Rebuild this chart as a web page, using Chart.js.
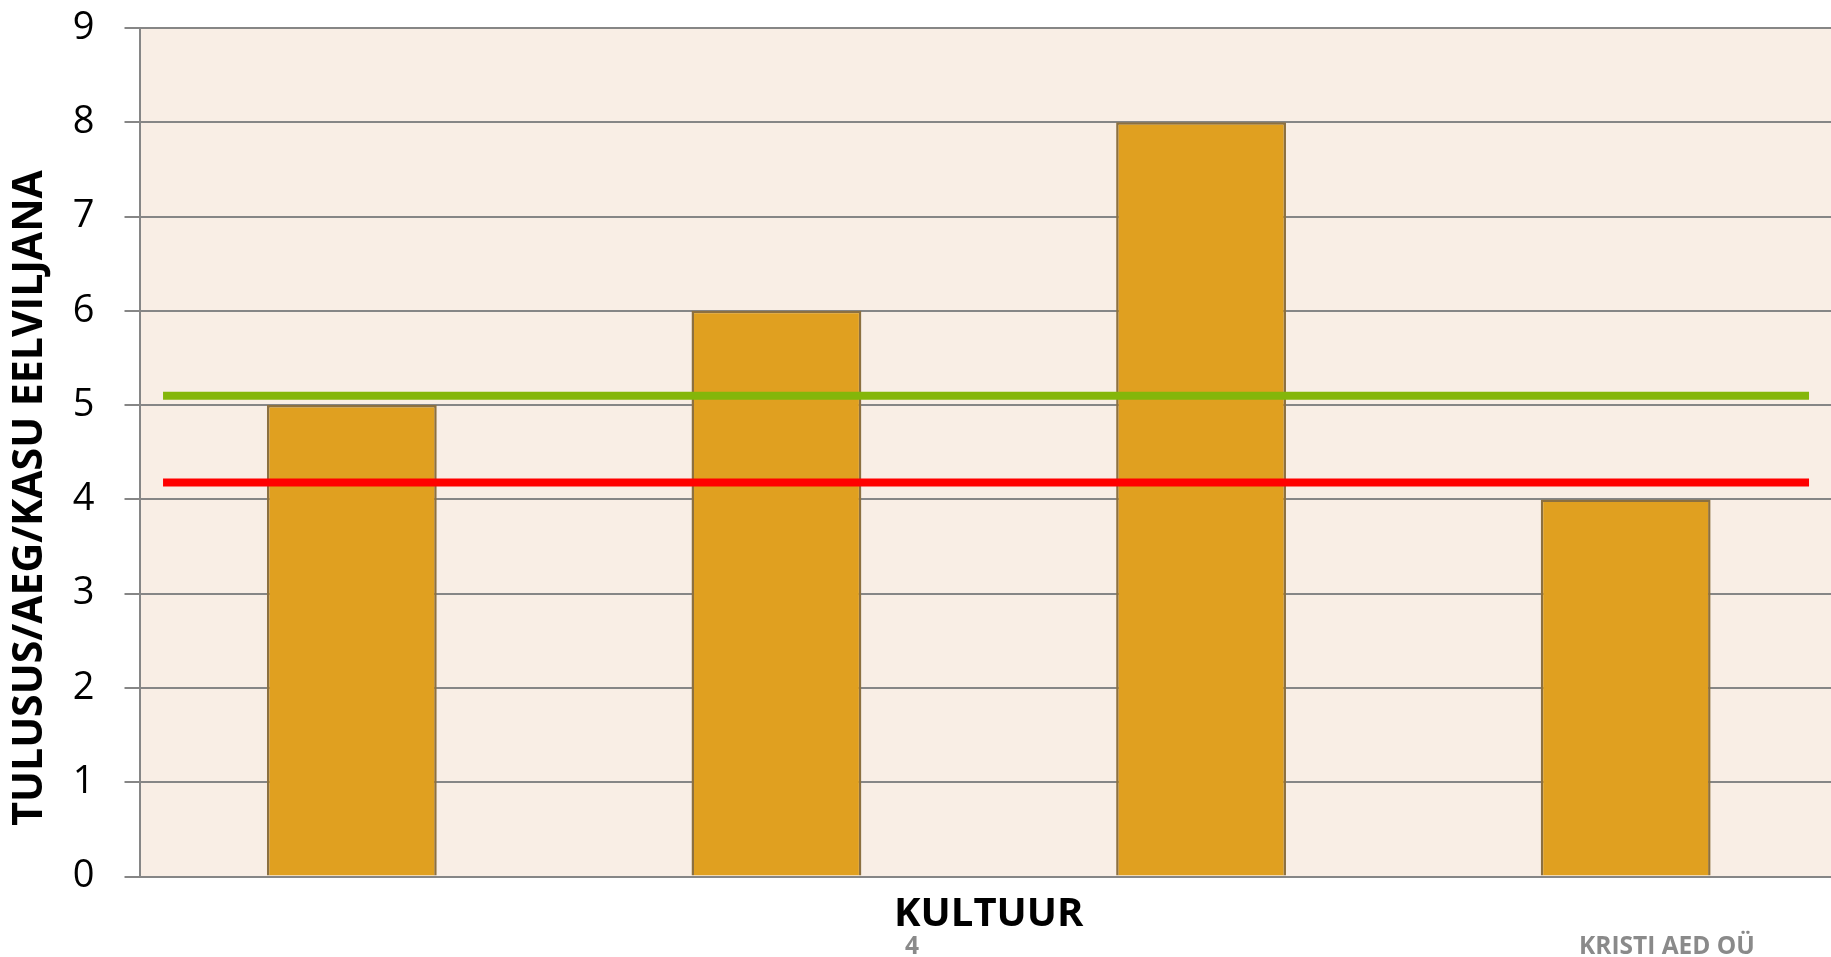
<!DOCTYPE html>
<html>
<head>
<meta charset="utf-8">
<script src="https://cdn.jsdelivr.net/npm/chart.js@4/dist/chart.umd.min.js"></script>
<style>
  html, body { margin: 0; padding: 0; background: #fff; overflow: hidden; }
  #wrap { position: relative; width: 1840px; height: 957px; }
</style>
</head>
<body>
<div id="wrap"><canvas id="chart" width="1840" height="957"></canvas></div>
<script>
// categories (no labels shown on the axis)
const categories = ["1", "2", "3", "4"];
const barValues = [5, 6, 8, 4];
// horizontal reference lines
const greenLevel = 5.1;
const redLevel = 4.18;
const yTicks = [0, 1, 2, 3, 4, 5, 6, 7, 8, 9];

const FONT = "'Open Sans', 'Noto Sans', sans-serif";
const GRID = "#868686";

// plot background + text not handled by the axes
const decor = {
  id: "decor",
  beforeDraw(chart) {
    const { ctx, chartArea: a } = chart;
    ctx.save();
    ctx.fillStyle = "#F9EEE5";
    ctx.fillRect(a.left, a.top, a.right - a.left, a.bottom - a.top);
    ctx.restore();
  },
  afterDraw(chart) {
    const ctx = chart.ctx;
    ctx.save();
    // y axis title
    ctx.translate(30, 498);
    ctx.rotate(-Math.PI / 2);
    ctx.font = "bold 41px " + FONT;
    ctx.fillStyle = "#000";
    ctx.textAlign = "center";
    ctx.textBaseline = "middle";
    ctx.fillText("TULUSUS/AEG/KASU EELVILJANA", 0, 0);
    ctx.restore();

    // slide footer
    ctx.save();
    ctx.font = "bold 24.5px " + FONT;
    ctx.fillStyle = "#8a8a8a";
    ctx.textBaseline = "alphabetic";
    ctx.textAlign = "left";
    ctx.fillText("4", 905, 954);
    ctx.fillText("KRISTI AED OÜ", 1579, 954);
    ctx.restore();
  }
};

const lineSet = (level, color) => ({
  type: "line",
  xAxisID: "xl",
  data: [{ x: 0, y: level }, { x: 1, y: level }],
  borderColor: color,
  borderWidth: 8,
  borderCapStyle: "butt",
  pointRadius: 0,
  fill: false,
  order: 0
});

new Chart(document.getElementById("chart"), {
  type: "bar",
  data: {
    labels: categories,
    datasets: [
      lineSet(greenLevel, "#84B60A"),
      lineSet(redLevel, "#FF0000"),
      {
        type: "bar",
        data: barValues,
        backgroundColor: "#E0A020",
        borderColor: "#8C7040",
        borderWidth: 2.5,
        barPercentage: 0.4,
        categoryPercentage: 1,
        grouped: false,
        order: 2
      }
    ]
  },
  options: {
    responsive: false,
    animation: false,
    devicePixelRatio: 1,
    layout: { padding: { top: 28, right: 2, left: 0, bottom: 0 } },
    plugins: { legend: { display: false }, tooltip: { enabled: false } },
    scales: {
      x: {
        offset: true,
        grid: { display: false },
        border: { display: true, color: GRID, width: 2 },
        ticks: { display: false },
        title: {
          display: true,
          text: "KULTUUR",
          color: "#000",
          font: { family: FONT, size: 40, weight: "bold" },
          padding: { top: 0, bottom: 18 }
        },
        afterFit(scale) { scale.height = 80.5; }
      },
      xl: {
        type: "linear",
        display: false,
        offset: false,
        min: -0.0143,
        max: 1.0176
      },
      y: {
        min: 0,
        max: 9,
        afterBuildTicks(scale) { scale.ticks = yTicks.map(v => ({ value: v })); },
        ticks: {
          color: "#000",
          padding: 30,
          font: { family: FONT, size: 38 }
        },
        grid: { color: GRID, lineWidth: 2, tickLength: 15, drawTicks: true },
        border: { display: true, color: GRID, width: 2 },
        afterFit(scale) {
          scale.width = 139.5;
          scale.paddingTop = 0;
          scale.paddingBottom = 0;
        }
      }
    }
  },
  plugins: [decor]
});
</script>
</body>
</html>
